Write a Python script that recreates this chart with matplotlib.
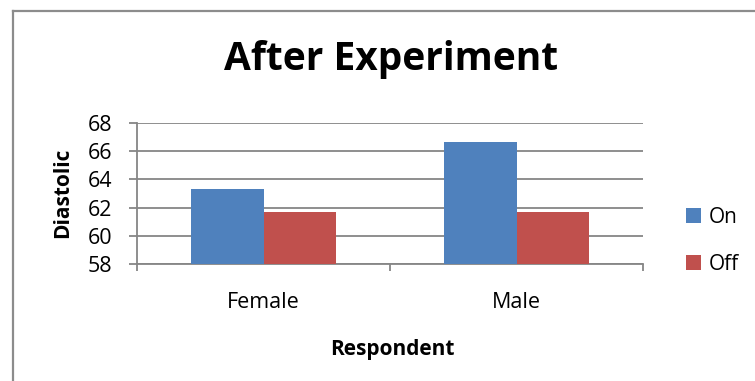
import matplotlib
matplotlib.use("Agg")
import matplotlib.pyplot as plt
import numpy as np

plt.rcParams['font.family'] = ['Open Sans', 'DejaVu Sans']

categories = ["Female", "Male"]
series_names = ["On", "Off"]
on_values = [63.33, 66.67]
off_values = [61.67, 61.67]
y_ticks = [58, 60, 62, 64, 66, 68]

colors = ["#4F81BD", "#C0504D"]
grid_color = "#868686"
W, H = 755, 381

fig = plt.figure(figsize=(W / 100, H / 100), dpi=100)
fig.patch.set_facecolor("white")

# chart-area frame (left and top edges)
fig.add_artist(plt.Line2D([12.5 / W, 12.5 / W], [0, 1 - 10.5 / H],
                          transform=fig.transFigure, color="#8c8c8c", lw=1.6))
fig.add_artist(plt.Line2D([12.5 / W, 1], [1 - 10.5 / H, 1 - 10.5 / H],
                          transform=fig.transFigure, color="#8c8c8c", lw=1.6))

ax = fig.add_axes([137 / W, 1 - 264.3 / H, (643 - 137) / W, (264.3 - 122.7) / H])

x = np.arange(len(categories))
width = 0.285
ax.bar(x - width / 2, np.array(on_values) - y_ticks[0], width, bottom=y_ticks[0],
       color=colors[0], label=series_names[0], zorder=3)
ax.bar(x + width / 2, np.array(off_values) - y_ticks[0], width, bottom=y_ticks[0],
       color=colors[1], label=series_names[1], zorder=3)

ax.set_xlim(-0.5, len(categories) - 0.5)
ax.set_ylim(y_ticks[0], y_ticks[-1])
ax.set_yticks(y_ticks)
ax.yaxis.grid(True, color=grid_color, lw=1.3, zorder=0)
ax.set_axisbelow(True)

for s in ["top", "right"]:
    ax.spines[s].set_visible(False)
for s in ["left", "bottom"]:
    ax.spines[s].set_color(grid_color)
    ax.spines[s].set_linewidth(1.3)

# category boundaries carry the tick marks, labels sit at category centres
ax.set_xticks(np.arange(len(categories) + 1) - 0.5)
ax.set_xticklabels([])
ax.tick_params(axis="x", which="major", length=5, width=1.3, color=grid_color, direction="out")
ax.set_xticks(x, minor=True)
ax.set_xticklabels(categories, minor=True, fontsize=15.5)
ax.tick_params(axis="x", which="minor", length=0, pad=20)
ax.tick_params(axis="y", length=6, width=1.3, color=grid_color, labelsize=15.5, pad=12)

ax.set_ylabel("Diastolic", fontsize=15, fontweight="bold", va="center")
ax.yaxis.set_label_coords((63 - 137) / 506, (264.3 - 193) / 141.6)
ax.set_xlabel("Respondent", fontsize=15, fontweight="bold", va="center")
ax.xaxis.set_label_coords((392 - 137) / 506, (264.3 - 350) / 141.6)

fig.text(391 / W, 1 - 70 / H, "After Experiment", ha="center", va="baseline",
         fontsize=28, fontweight="bold")

handles, labels = ax.get_legend_handles_labels()
fig.legend(handles, labels, loc="center left", bbox_to_anchor=(686 / W, 1 - 241 / H),
           frameon=False, fontsize=15, handlelength=0.72, handleheight=0.72,
           handletextpad=0.38, labelspacing=1.25, borderpad=0, borderaxespad=0)

fig.savefig("out.png", dpi=100)
